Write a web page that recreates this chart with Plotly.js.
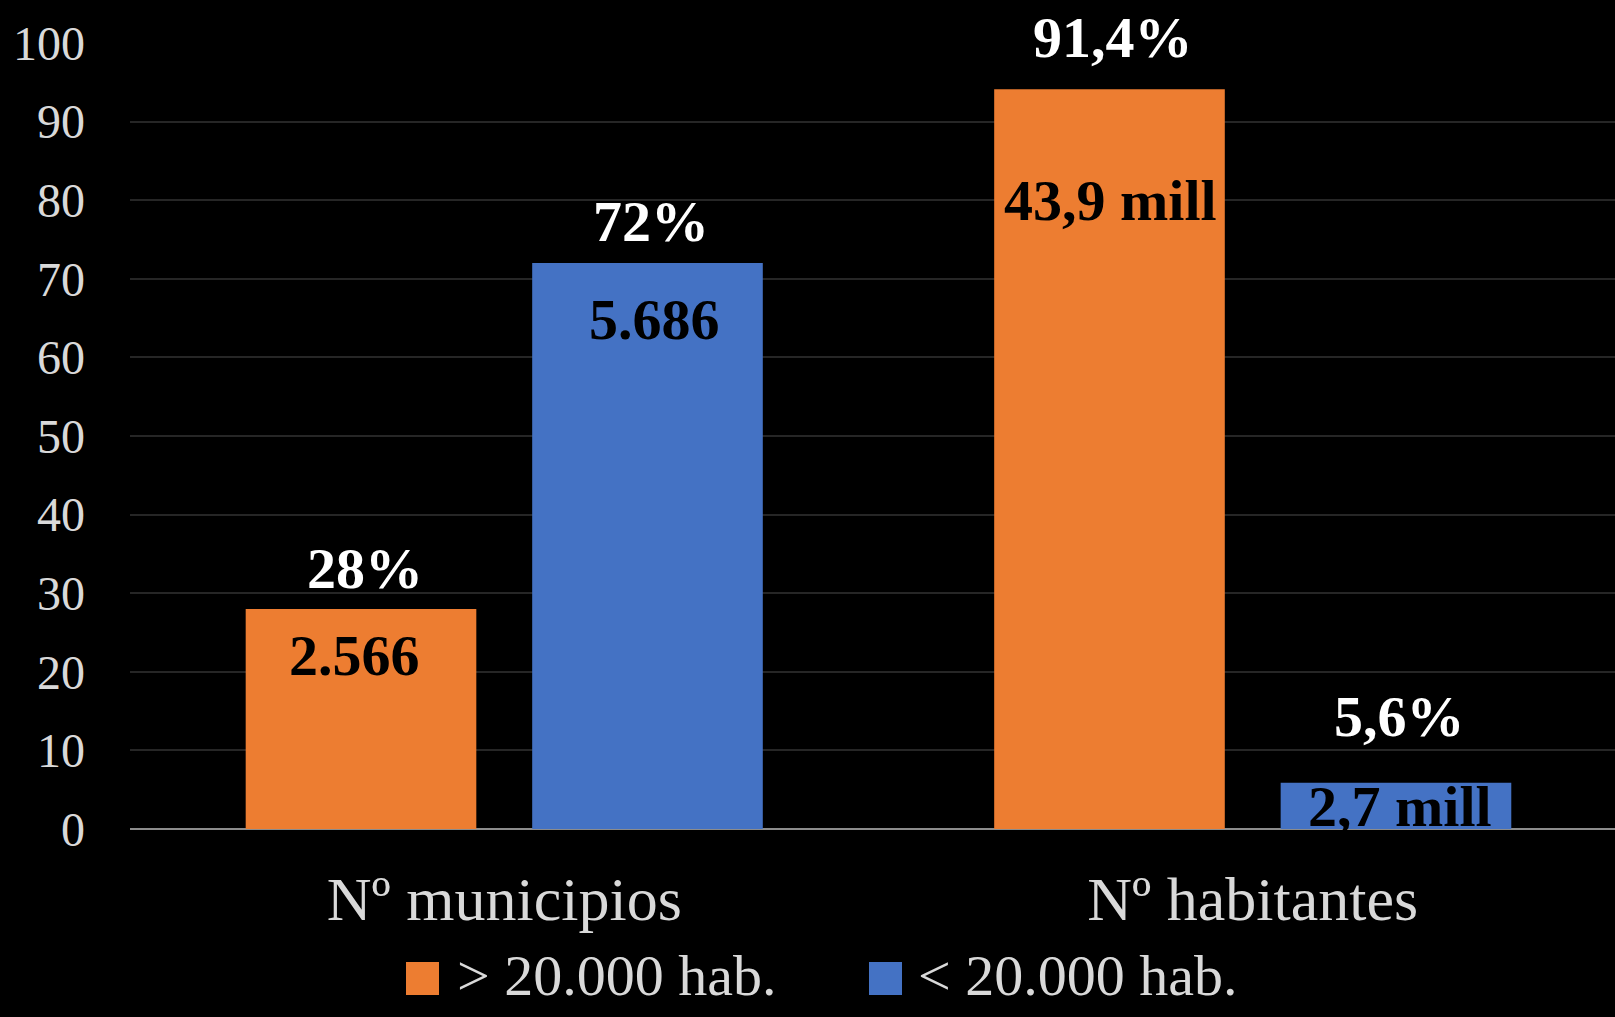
<!DOCTYPE html>
<html>
<head>
<meta charset="utf-8">
<script src="https://cdn.plot.ly/plotly-3.0.1.min.js"></script>
<style>
  html, body { margin: 0; padding: 0; background: #000; }
  #chart { width: 1615px; height: 1017px; }
</style>
</head>
<body>
<div id="chart"></div>
<script>
// ---- data ----
const categories = ['Nº municipios', 'Nº habitantes'];
const seriesNames = ['> 20.000 hab.', '< 20.000 hab.'];
const over20k = [28, 94.1];
const under20k = [72, 5.9];
const pctOver = ['28%', '91,4%'];
const pctUnder = ['72%', '5,6%'];
const countOver = ['2.566', '43,9 mill'];
const countUnder = ['5.686', '2,7 mill'];
const yTickVals = [0, 10, 20, 30, 40, 50, 60, 70, 80, 90, 100];

// ---- style / layout constants ----
const colors = ['#ED7D31', '#4472C4'];
const FONT = '"Liberation Serif", "Times New Roman", serif';
const W = 1615, H = 1017;
const M = { l: 130, r: 0, t: 43, b: 188 };
const BARGAP = 0.2345, BARGROUPGAP = 0.195;
const barOffset = (1 - BARGAP) / 4; // centre of each bar relative to category centre
// pixel shifts of labels relative to bar tops (manual placement as in the original)
const pctShift = [[40, 52], [42, 66]];
const countShift = [[-47, -111], [-56, -24]];
const countXShift = [[-7, 1], [7, 4]];

const plotW = W - M.l - M.r, plotH = H - M.t - M.b;
const pxX = px => (px - M.l) / plotW;
const pxY = py => (H - M.b - py) / plotH;

const series = [over20k, under20k];
const pcts = [pctOver, pctUnder];
const counts = [countOver, countUnder];

const traces = series.map((vals, s) => ({
  type: 'bar',
  name: seriesNames[s],
  x: categories,
  y: vals,
  marker: { color: colors[s], line: { width: 0 } },
  hoverinfo: 'skip',
  showlegend: false
}));

const annotations = [];
series.forEach((vals, s) => {
  vals.forEach((v, i) => {
    const xc = i + (s === 0 ? -barOffset : barOffset);
    annotations.push({
      x: xc, y: v, xref: 'x', yref: 'y',
      text: '<b>' + pcts[s][i] + '</b>',
      showarrow: false, xanchor: 'center', yanchor: 'middle',
      yshift: pctShift[s][i], xshift: 4,
      font: { family: FONT, size: 58, color: '#ffffff' }
    });
    annotations.push({
      x: xc, y: v, xref: 'x', yref: 'y',
      text: '<b>' + counts[s][i] + '</b>',
      showarrow: false, xanchor: 'center', yanchor: 'middle',
      yshift: countShift[s][i], xshift: countXShift[s][i],
      font: { family: FONT, size: 58, color: '#000000' }
    });
  });
});

// manual legend (large square swatches)
const legendSq = [[406, 439], [869, 902]];
const legendTextX = [455, 916];
const shapes = [];
seriesNames.forEach((name, s) => {
  shapes.push({
    type: 'rect', xref: 'paper', yref: 'paper',
    x0: pxX(legendSq[s][0]), x1: pxX(legendSq[s][1]),
    y0: pxY(995), y1: pxY(962),
    fillcolor: colors[s], line: { width: 0 }
  });
  annotations.push({
    xref: 'paper', yref: 'paper',
    x: pxX(legendTextX[s]), y: pxY(975),
    text: name, showarrow: false, xanchor: 'left', yanchor: 'middle',
    font: { family: FONT, size: 58, color: '#d9d9d9' }
  });
});

const layout = {
  width: W, height: H,
  paper_bgcolor: '#000000', plot_bgcolor: '#000000',
  margin: M,
  barmode: 'group', bargap: BARGAP, bargroupgap: BARGROUPGAP,
  showlegend: false,
  font: { family: FONT, color: '#d9d9d9' },
  xaxis: {
    type: 'category',
    range: [-0.5, 1.484],
    showgrid: false, zeroline: false, showline: false,
    ticks: '', ticklabelstandoff: 28,
    tickfont: { family: FONT, size: 62, color: '#d9d9d9' },
    fixedrange: true
  },
  yaxis: {
    range: [0, 100],
    tickvals: yTickVals,
    ticktext: yTickVals.map(String),
    showgrid: true, gridcolor: '#262626', gridwidth: 2,
    zeroline: true, zerolinecolor: '#8c8c8c', zerolinewidth: 2.5,
    showline: false, ticks: '', ticklabelstandoff: 44,
    tickfont: { family: FONT, size: 48, color: '#d9d9d9' },
    fixedrange: true
  },
  shapes: shapes,
  annotations: annotations
};

Plotly.newPlot('chart', traces, layout, { displayModeBar: false, staticPlot: true });
</script>
</body>
</html>
